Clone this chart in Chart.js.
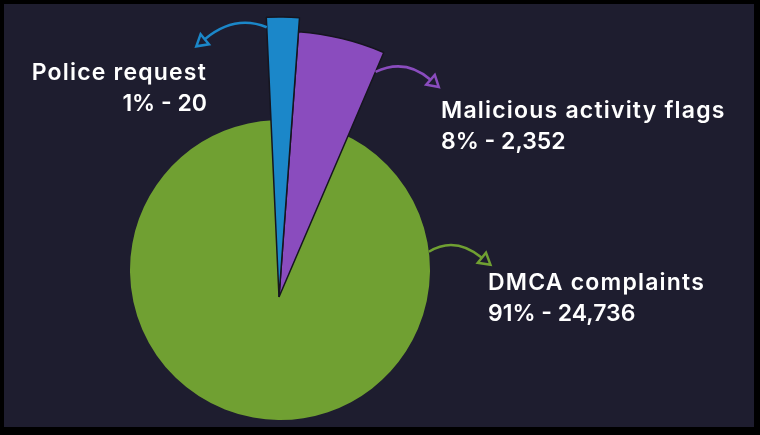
<!DOCTYPE html>
<html>
<head>
<meta charset="utf-8">
<script src="https://cdn.jsdelivr.net/npm/chart.js@4.4.1/dist/chart.umd.min.js"></script>
<style>
  html, body { margin: 0; padding: 0; background: #000; }
  #wrap { position: relative; width: 760px; height: 435px; overflow: hidden; background: #000; }
  #panel { position: absolute; left: 4px; top: 4px; width: 750px; height: 423px; background: #1e1d2f; }
  canvas { position: absolute; left: 0; top: 0; }
  .lbl { position: absolute; color: #fff; font-family: Inter, sans-serif; font-weight: 600;
         font-size: 23px; line-height: 31px; white-space: nowrap; }
  .lbl .name { letter-spacing: 1.2px; }
  .lbl .num { letter-spacing: 0; }
</style>
</head>
<body>
<div id="wrap">
  <div id="panel"></div>
  <canvas id="greenPie" width="760" height="435"></canvas>
  <canvas id="purplePie" width="760" height="435"></canvas>
  <canvas id="bluePie" width="760" height="435"></canvas>
  <div class="lbl" id="lbl0" style="right:553px; top:57px; text-align:right"></div>
  <div class="lbl" id="lbl1" style="left:441px; top:95px"></div>
  <div class="lbl" id="lbl2" style="left:488px; top:267px"></div>
</div>
<script>
const categories = ['Police request', 'Malicious activity flags', 'DMCA complaints'];
const counts = [20, 2352, 24736];
const percents = [1, 8, 91];
// slice sizes as they are drawn in the picture (degrees), not true proportions
const sliceAngles = [6.8, 19.0, 334.2];

const colors = ['#1b87c9', '#8a4cbe', '#70a032'];

// labels
categories.forEach((name, i) => {
  document.getElementById('lbl' + i).innerHTML =
    '<span class="name">' + name + '</span><br><span class="num">' +
    percents[i] + '% - ' + counts[i].toLocaleString('en-US') + '</span>';
});

// curved callout arrow, starting from the slice
function calloutArrow(idx, startAt, ctrl, end) {
  return {
    id: 'arrow' + idx,
    afterDatasetsDraw(chart) {
      const arc = chart.getDatasetMeta(0).data[idx];
      const s = startAt(arc);
      const c = { x: s.x + ctrl[0], y: s.y + ctrl[1] };
      const e = { x: s.x + end[0], y: s.y + end[1] };
      const ctx = chart.ctx;
      ctx.save();
      ctx.strokeStyle = colors[idx];
      ctx.lineWidth = 2.5;
      ctx.lineJoin = 'miter';
      ctx.beginPath();
      ctx.moveTo(s.x, s.y);
      ctx.quadraticCurveTo(c.x, c.y, e.x, e.y);
      ctx.stroke();
      // open arrow head
      let ux = e.x - c.x, uy = e.y - c.y;
      const len = Math.hypot(ux, uy);
      ux /= len; uy /= len;
      const nx = -uy, ny = ux;
      ctx.beginPath();
      ctx.moveTo(e.x + ux * 11, e.y + uy * 11);
      ctx.lineTo(e.x + nx * 6.5, e.y + ny * 6.5);
      ctx.lineTo(e.x - nx * 6.5, e.y - ny * 6.5);
      ctx.closePath();
      ctx.stroke();
      ctx.restore();
    }
  };
}

function drawSlice(canvasId, idx, radius, padding, arrow) {
  return new Chart(document.getElementById(canvasId), {
    type: 'pie',
    data: {
      labels: categories,
      datasets: [{
        data: sliceAngles,
        backgroundColor: colors.map((c, i) => i === idx ? c : 'rgba(0,0,0,0)'),
        borderColor: '#16151f',
        borderWidth: categories.map((c, i) => (i === idx && idx !== 2) ? 1.5 : 0),
        hoverOffset: 0
      }]
    },
    options: {
      responsive: false,
      animation: false,
      events: [],
      rotation: -2.6,
      radius: radius,
      layout: { padding: padding },
      plugins: { legend: { display: false }, tooltip: { enabled: false } }
    },
    plugins: [arrow]
  });
}

// big green slice (underneath)
drawSlice('greenPie', 2, 150, { left: 0, right: 200, top: 105, bottom: 0 },
  calloutArrow(2, a => ({ x: a.x + a.outerRadius * Math.cos(-7 * Math.PI / 180),
                          y: a.y + a.outerRadius * Math.sin(-7 * Math.PI / 180) }),
               [26, -16], [53, 6]));

// purple slice
drawSlice('purplePie', 1, 266, { left: 0, right: 202, top: 159, bottom: 0 },
  calloutArrow(1, a => ({ x: a.x + (a.outerRadius - 21) * Math.cos(a.endAngle),
                          y: a.y + (a.outerRadius - 21) * Math.sin(a.endAngle) }),
               [30, -14], [55, 8]));

// blue slice (on top)
drawSlice('bluePie', 0, 280, { left: 0, right: 202, top: 159, bottom: 0 },
  calloutArrow(0, a => ({ x: a.x + (a.outerRadius - 10) * Math.cos(a.startAngle),
                          y: a.y + (a.outerRadius - 10) * Math.sin(a.startAngle) }),
               [-32, -13], [-62, 12]));
</script>
</body>
</html>
